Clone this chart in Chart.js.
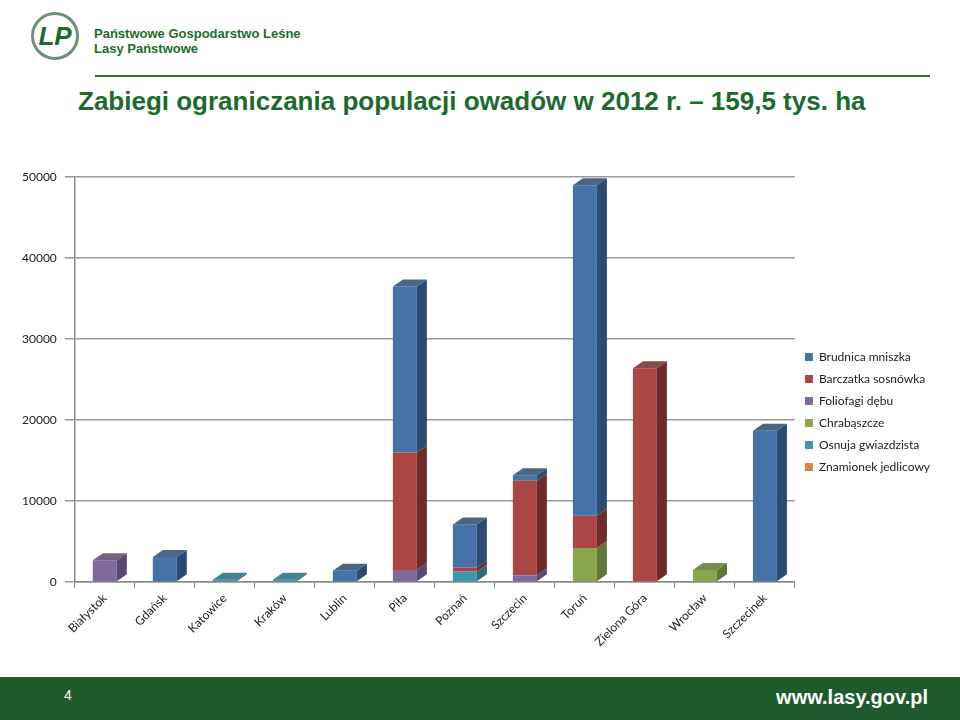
<!DOCTYPE html>
<html>
<head>
<meta charset="utf-8">
<script src="https://cdn.jsdelivr.net/npm/chart.js@4"></script>
<style>
  body { margin: 0; width: 960px; height: 720px; background: #fff; position: relative; overflow: hidden; font-family: "Liberation Sans", Arial, sans-serif; }
  .logo { position: absolute; left: 31px; top: 12px; width: 48px; height: 48px; border-radius: 50%; border: 3px solid #6f8f78; box-sizing: border-box; color: #1d6b2c; font: bold italic 26px "Liberation Sans"; text-align: center; line-height: 42px; }
  .org { position: absolute; left: 94px; top: 26px; color: #1d6b2c; font: bold 13px "Liberation Sans"; line-height: 15px; }
  .hline { position: absolute; left: 95px; top: 75px; width: 835px; height: 2px; background: #2e6b40; }
  h1 { position: absolute; left: 78px; top: 86px; margin: 0; color: #1d6b2c; font: bold 26px "Liberation Sans"; }
  .wrap { position: absolute; left: 0; top: 162px; width: 960px; height: 490px; }
  .foot { position: absolute; left: 0; top: 677px; width: 960px; height: 43px; background: #1e5a2c; }
  .pg { position: absolute; left: 64px; top: 687px; color: #fff; font: 14px "Liberation Sans"; }
  .www { position: absolute; right: 32px; top: 686px; color: #fff; font: bold 20px "Liberation Sans"; }
</style>
</head>
<body>
<div class="logo">LP</div>
<div class="org">Państwowe Gospodarstwo Leśne<br>Lasy Państwowe</div>
<div class="hline"></div>
<h1>Zabiegi ograniczania populacji owadów w 2012 r. – 159,5 tys. ha</h1>
<div class="wrap"><canvas id="c"></canvas></div>
<div class="foot"></div>
<div class="pg">4</div>
<div class="www">www.lasy.gov.pl</div>
<script>
const categories = ['Białystok', 'Gdańsk', 'Katowice', 'Kraków', 'Lublin', 'Piła', 'Poznań', 'Szczecin', 'Toruń', 'Zielona Góra', 'Wrocław', 'Szczecinek'];
const brudnica    = [0, 3100, 0, 0, 1400, 20500, 5300, 700, 40800, 0, 0, 18700];
const barczatka   = [0, 0, 0, 0, 0, 14500, 500, 11700, 4000, 26400, 0, 0];
const foliofagi   = [2700, 0, 0, 0, 0, 1500, 0, 800, 0, 0, 0, 0];
const chrabaszcze = [0, 0, 0, 0, 0, 0, 0, 0, 4200, 0, 1500, 0];
const osnuja      = [0, 0, 300, 300, 0, 0, 1300, 0, 0, 0, 0, 0];
const znamionek   = [0, 0, 0, 0, 0, 0, 0, 0, 0, 0, 0, 0];
const yTicks = [0, 10000, 20000, 30000, 40000, 50000];

// stacking order: bottom first; legend order via rank
const sets = [
  { label: 'Foliofagi dębu', data: foliofagi, color: '#80699B', side: '#5a4872', rank: 2 },
  { label: 'Osnuja gwiazdzista', data: osnuja, color: '#3D96AE', side: '#2a6b7c', rank: 4 },
  { label: 'Chrabąszcze', data: chrabaszcze, color: '#89A54E', side: '#617638', rank: 3 },
  { label: 'Znamionek jedlicowy', data: znamionek, color: '#DB843D', side: '#9c5d2b', rank: 5 },
  { label: 'Barczatka sosnówka', data: barczatka, color: '#AA4643', side: '#6e2d2b', rank: 1 },
  { label: 'Brudnica mniszka', data: brudnica, color: '#4572A7', side: '#2c4b70', rank: 0 }
];

const DX = 10, DY = -7;
const bars3d = {
  id: 'bars3d',
  afterDatasetsDraw(chart) {
    const ctx = chart.ctx;
    const tops = {};
    chart.data.datasets.forEach((ds, i) => {
      ds.data.forEach((v, j) => { if (v > 0) tops[j] = i; });
    });
    chart.data.datasets.forEach((ds, i) => {
      const meta = chart.getDatasetMeta(i);
      meta.data.forEach((bar, j) => {
        if (!(ds.data[j] > 0)) return;
        const r = bar.x + bar.width / 2, l = bar.x - bar.width / 2;
        ctx.save();
        ctx.fillStyle = ds.sideColor;
        ctx.beginPath();
        ctx.moveTo(r, bar.y); ctx.lineTo(r + DX, bar.y + DY);
        ctx.lineTo(r + DX, bar.base + DY); ctx.lineTo(r, bar.base);
        ctx.closePath(); ctx.fill();
        if (tops[j] === i) {
          ctx.globalAlpha = 0.85;
          ctx.beginPath();
          ctx.moveTo(l, bar.y); ctx.lineTo(l + DX, bar.y + DY);
          ctx.lineTo(r + DX, bar.y + DY); ctx.lineTo(r, bar.y);
          ctx.closePath(); ctx.fill();
        }
        ctx.restore();
      });
    });
  }
};

new Chart(document.getElementById('c'), {
  type: 'bar',
  data: {
    labels: categories,
    datasets: sets.map(s => ({
      label: s.label, data: s.data, backgroundColor: s.color, sideColor: s.side, rank: s.rank,
      borderWidth: 0, barPercentage: 0.5, categoryPercentage: 0.8
    }))
  },
  options: {
    responsive: true, maintainAspectRatio: false, animation: false,
    layout: { padding: { left: 14, right: 20, top: 10, bottom: 0 } },
    plugins: {
      title: { display: false },
      tooltip: { enabled: false },
      legend: {
        position: 'right',
        labels: {
          font: { family: 'Lato', size: 12 }, color: '#222', boxWidth: 8, boxHeight: 8, padding: 10,
          sort: (a, b, data) => data.datasets[a.datasetIndex].rank - data.datasets[b.datasetIndex].rank
        }
      }
    },
    scales: {
      x: {
        stacked: true,
        grid: { display: true, drawOnChartArea: false, color: '#888', tickLength: 6 },
        border: { color: '#888', width: 1.5 },
        ticks: { font: { family: 'Lato', size: 12 }, color: '#222', minRotation: 45, maxRotation: 45 }
      },
      y: {
        stacked: true, min: 0, max: 50000,
        afterBuildTicks: axis => { axis.ticks = yTicks.map(v => ({ value: v })); },
        grid: { color: '#999', lineWidth: 1.5, tickLength: 10 },
        border: { color: '#888', width: 1.5 },
        ticks: { font: { family: 'Lato', size: 12 }, color: '#222', padding: 8, callback: v => String(v) }
      }
    }
  },
  plugins: [bars3d]
});
</script>
</body>
</html>
